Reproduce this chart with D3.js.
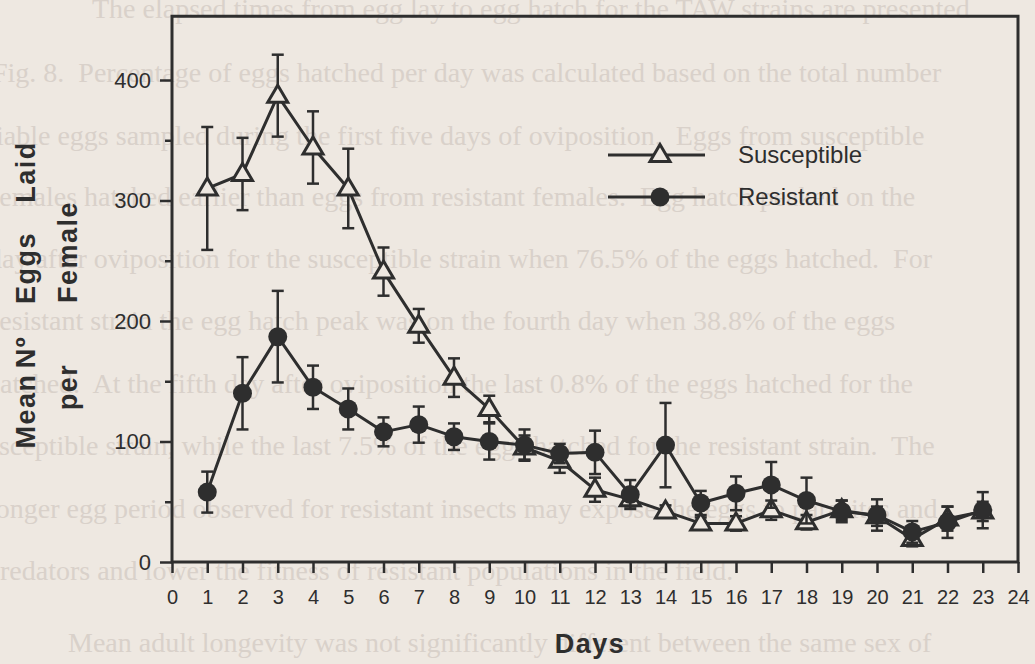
<!DOCTYPE html>
<html>
<head>
<meta charset="utf-8">
<script src="https://cdn.jsdelivr.net/npm/d3@7"></script>
<style>
  html, body { margin: 0; padding: 0; background: #eee8e1; }
  svg { display: block; }
</style>
</head>
<body>
<div id="chart"></div>
<script>
// values (mean eggs laid per female, +/- error)
const days = d3.range(1, 24);
const susceptibleMean = [310, 322, 387, 344, 310, 241, 196, 153, 127, 95, 84, 60, 52, 42, 32, 32, 43, 33, 43, 38, 19, 36, 42];
const susceptibleErr = [51, 30, 34, 30, 33, 20, 14, 16, 11, 10, 10, 10, 6, 5, 5, 6, 8, 6, 8, 8, 6, 10, 8];
const resistantMean = [58, 140, 187, 145, 127, 108, 114, 104, 100, 97, 90, 91, 56, 97, 49, 57, 64, 51, 42, 39, 25, 33, 43];
const resistantErr = [17, 30, 38, 18, 17, 12, 15, 11, 15, 13, 8, 18, 12, 35, 10, 14, 19, 19, 9, 13, 9, 13, 15];

const xTicks = d3.range(0, 25);
const yTicks = [0, 100, 200, 300, 400];
const yMinorTicks = [50, 150, 250, 350];
const seriesNames = ["Susceptible", "Resistant"];
const yTitleLine1 = ["Mean", "Nº", "Eggs", "Laid"];
const yTitleLine2 = ["per", "Female"];
const xTitle = "Days";

// text from the facing page that shows through the scan
const pageLines = [
  "The elapsed times from egg lay to egg hatch for the TAW strains are presented",
  "Fig. 8.  Percentage of eggs hatched per day was calculated based on the total number",
  "viable eggs sampled during the first five days of oviposition.  Eggs from susceptible",
  "females hatched earlier than eggs from resistant females.  Egg hatch peaked on the",
  "day after oviposition for the susceptible strain when 76.5% of the eggs hatched.  For",
  "resistant strain the egg hatch peak was on the fourth day when 38.8% of the eggs",
  "hatched.  At the fifth day after oviposition the last 0.8% of the eggs hatched for the",
  "susceptible strain, while the last 7.5% of the eggs hatched for the resistant strain.  The",
  "longer egg period observed for resistant insects may expose the eggs to parasites and",
  "predators and lower the fitness of resistant populations in the field.",
  "Mean adult longevity was not significantly different between the same sex of"
];
const pageLineX = [92, -8, -18, -10, -12, -10, -14, -26, -12, -14, 68];
const pageLineY = [18, 82, 145, 206, 268, 330, 393, 455, 518, 580, 652];

const width = 1035, height = 664;
const ink = "#2e2e2e";
const paper = "#eee8e1";

const svg = d3.select("#chart").append("svg")
    .attr("width", width)
    .attr("height", height)
    .style("background", paper);

svg.append("g")
    .attr("font-family", "'Liberation Serif', 'Times New Roman', serif")
    .attr("font-size", 28)
    .attr("fill", "#d9d1ca")
  .selectAll("text")
  .data(pageLines)
  .enter()
  .append("text")
    .attr("x", (d, i) => pageLineX[i])
    .attr("y", (d, i) => pageLineY[i])
    .attr("xml:space", "preserve")
    .text(d => d);

const x = d3.scaleLinear().domain([0, 24]).range([172, 1018]);
const y = d3.scaleLinear().domain([0, 400]).range([562, 80]);
const yTop = 453;

const font = "'Liberation Sans', Arial, Helvetica, sans-serif";

// frame
svg.append("path")
    .attr("d", `M${x(0)},${y(0)}V${y(yTop)}H${x(24)}V${y(0)}Z`)
    .attr("fill", "none")
    .attr("stroke", ink)
    .attr("stroke-width", 3);

const xAxis = svg.append("g")
    .attr("transform", `translate(0,${y(0)})`)
    .call(d3.axisBottom(x).tickValues(xTicks).tickSize(11).tickPadding(17));
xAxis.select(".domain").remove();
xAxis.selectAll("line").attr("stroke", ink).attr("stroke-width", 2.5);
xAxis.selectAll("text")
    .attr("fill", ink)
    .attr("font-family", font)
    .attr("font-size", 20);

const yAxis = svg.append("g")
    .attr("transform", `translate(${x(0)},0)`)
    .call(d3.axisLeft(y).tickValues(yTicks).tickSize(12).tickPadding(9));
yAxis.select(".domain").remove();
yAxis.selectAll("line").attr("stroke", ink).attr("stroke-width", 2.5);
yAxis.selectAll("text")
    .attr("fill", ink)
    .attr("font-family", font)
    .attr("font-size", 22);

const yMinor = svg.append("g")
    .attr("transform", `translate(${x(0)},0)`)
    .call(d3.axisLeft(y).tickValues(yMinorTicks).tickSize(7).tickFormat(""));
yMinor.select(".domain").remove();
yMinor.selectAll("line").attr("stroke", ink).attr("stroke-width", 2.5);

// axis titles, one word at a time so the wide spacing of the original holds
const title = svg.append("g")
    .attr("font-family", font)
    .attr("font-weight", "bold")
    .attr("font-size", 27)
    .attr("letter-spacing", 1.5)
    .attr("fill", ink)
    .attr("text-anchor", "middle");

const line1Pos = [411, 352, 268, 172];
const line2Pos = [387, 252];
title.selectAll(".t1")
  .data(yTitleLine1)
  .enter()
  .append("text")
    .attr("class", "t1")
    .attr("transform", (d, i) => `translate(35,${line1Pos[i]}) rotate(-90)`)
    .text(d => d);
title.selectAll(".t2")
  .data(yTitleLine2)
  .enter()
  .append("text")
    .attr("class", "t2")
    .attr("transform", (d, i) => `translate(77,${line2Pos[i]}) rotate(-90)`)
    .text(d => d);

svg.append("text")
    .attr("x", 590)
    .attr("y", 653)
    .attr("text-anchor", "middle")
    .attr("font-family", font)
    .attr("font-weight", "bold")
    .attr("font-size", 27)
    .attr("letter-spacing", 1.5)
    .attr("fill", ink)
    .text(xTitle);

// series
const triangle = "M0,-10.5L10,6.5L-10,6.5Z";

function drawSeries(means, errs, marker) {
  const data = days.map((d, i) => ({ day: d, mean: means[i], err: errs[i] }));
  const g = svg.append("g");

  const bars = g.append("g")
      .attr("stroke", ink)
      .attr("stroke-width", 2.5)
    .selectAll("g")
    .data(data)
    .enter()
    .append("g");
  bars.append("line")
      .attr("x1", d => x(d.day)).attr("x2", d => x(d.day))
      .attr("y1", d => y(d.mean - d.err)).attr("y2", d => y(d.mean + d.err));
  bars.append("line")
      .attr("x1", d => x(d.day) - 6).attr("x2", d => x(d.day) + 6)
      .attr("y1", d => y(d.mean + d.err)).attr("y2", d => y(d.mean + d.err));
  bars.append("line")
      .attr("x1", d => x(d.day) - 6).attr("x2", d => x(d.day) + 6)
      .attr("y1", d => y(d.mean - d.err)).attr("y2", d => y(d.mean - d.err));

  g.append("path")
      .datum(data)
      .attr("fill", "none")
      .attr("stroke", ink)
      .attr("stroke-width", 3)
      .attr("stroke-linejoin", "round")
      .attr("d", d3.line().x(d => x(d.day)).y(d => y(d.mean)));

  if (marker === "triangle") {
    g.selectAll(".m")
      .data(data)
      .enter()
      .append("path")
        .attr("class", "m")
        .attr("transform", d => `translate(${x(d.day)},${y(d.mean)})`)
        .attr("d", triangle)
        .attr("fill", paper)
        .attr("stroke", ink)
        .attr("stroke-width", 3);
  } else {
    g.selectAll(".m")
      .data(data)
      .enter()
      .append("circle")
        .attr("class", "m")
        .attr("cx", d => x(d.day))
        .attr("cy", d => y(d.mean))
        .attr("r", 9.5)
        .attr("fill", ink);
  }
}

drawSeries(susceptibleMean, susceptibleErr, "triangle");
drawSeries(resistantMean, resistantErr, "circle");

// legend
const legend = svg.append("g");
const legendRows = legend.selectAll("g")
  .data(seriesNames)
  .enter()
  .append("g")
    .attr("transform", (d, i) => `translate(0,${155 + i * 42})`);
legendRows.append("line")
    .attr("x1", 608).attr("x2", 705)
    .attr("stroke", ink)
    .attr("stroke-width", 3);
legendRows.filter((d, i) => i === 0).append("path")
    .attr("transform", "translate(660,0)")
    .attr("d", triangle)
    .attr("fill", paper)
    .attr("stroke", ink)
    .attr("stroke-width", 3);
legendRows.filter((d, i) => i === 1).append("circle")
    .attr("cx", 660)
    .attr("r", 9.5)
    .attr("fill", ink);
legendRows.append("text")
    .attr("x", 738)
    .attr("y", 8)
    .attr("font-family", font)
    .attr("font-size", 24)
    .attr("fill", ink)
    .text(d => d);
</script>
</body>
</html>
